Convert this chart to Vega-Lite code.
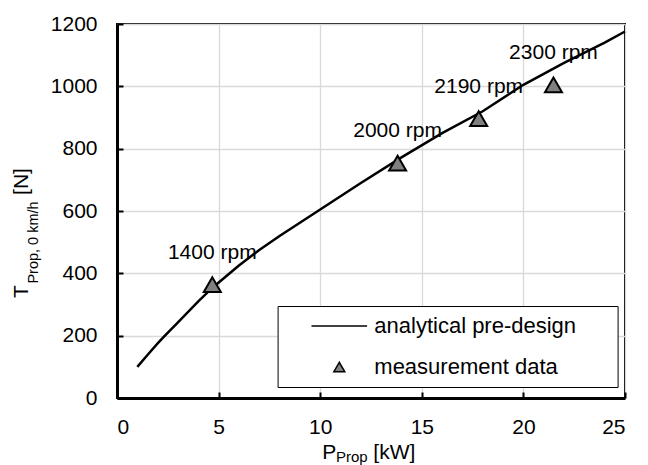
{
  "$schema": "https://vega.github.io/schema/vega-lite/v6.json",
  "width": 508,
  "height": 374,
  "autosize": {"type": "none"},
  "padding": {"left": 117, "top": 24, "right": 23, "bottom": 67},
  "background": "white",
  "datasets": {
    "curve": [
      {"P": 1, "T": 100},
      {"P": 1.5, "T": 138},
      {"P": 2, "T": 175},
      {"P": 2.3, "T": 196},
      {"P": 3, "T": 243},
      {"P": 4, "T": 310},
      {"P": 4.7, "T": 354},
      {"P": 6, "T": 425},
      {"P": 7, "T": 475},
      {"P": 8, "T": 520},
      {"P": 10, "T": 605},
      {"P": 12, "T": 690},
      {"P": 14, "T": 772},
      {"P": 16, "T": 850},
      {"P": 18, "T": 920},
      {"P": 20, "T": 1005},
      {"P": 22, "T": 1075},
      {"P": 24, "T": 1140},
      {"P": 25, "T": 1176}
    ],
    "meas": [
      {"P": 4.69, "T": 364, "rpm": "1400 rpm", "series": "measurement data"},
      {"P": 13.81, "T": 754, "rpm": "2000 rpm", "series": "measurement data"},
      {"P": 17.8, "T": 896, "rpm": "2190 rpm", "series": "measurement data"},
      {"P": 21.48, "T": 1005, "rpm": "2300 rpm", "series": "measurement data"}
    ]
  },
  "layer": [
    {
      "data": {"name": "curve"},
      "mark": {"type": "line", "color": "black", "strokeWidth": 2.5},
      "encoding": {
        "x": {
          "field": "P", "type": "quantitative",
          "scale": {"domain": [0, 25], "nice": false, "zero": false},
          "axis": {
            "orient": "bottom",
            "values": [0, 5, 10, 15, 20, 25], "format": "d",
            "grid": true, "gridColor": "#d9d9d9", "gridWidth": 1.3,
            "domain": true, "domainColor": "black", "domainWidth": 3,
            "ticks": true, "tickSize": -6, "tickColor": "black", "tickWidth": 2,
            "labelPadding": 24, "labelFontSize": 21, "labelColor": "black", "labelFont": "Liberation Sans",
            "title": "P", "titleFontSize": 21, "titleFont": "Liberation Sans", "titleFontWeight": "normal", "titleColor": "black",
            "titleX": 211.8, "titleY": 60.7, "titleAlign": "center", "titleBaseline": "alphabetic"
          }
        },
        "y": {
          "field": "T", "type": "quantitative",
          "scale": {"domain": [0, 1200], "nice": false, "zero": false},
          "axis": {
            "orient": "left",
            "values": [0, 200, 400, 600, 800, 1000, 1200], "format": "d",
            "grid": true, "gridColor": "#d9d9d9", "gridWidth": 1.3,
            "domain": true, "domainColor": "black", "domainWidth": 3,
            "ticks": true, "tickSize": -6, "tickColor": "black", "tickWidth": 2,
            "labelPadding": 26, "labelFontSize": 21, "labelColor": "black", "labelFont": "Liberation Sans",
            "title": "T", "titleFontSize": 21, "titleFont": "Liberation Sans", "titleFontWeight": "normal", "titleColor": "black",
            "titleAngle": 270, "titleX": -90, "titleY": 267, "titleAlign": "center", "titleBaseline": "alphabetic"
          }
        }
      }
    },
    {
      "data": {"name": "meas"},
      "mark": {"type": "point", "shape": "triangle-up", "filled": true, "fill": "#808080", "stroke": "black", "strokeWidth": 2, "size": 290, "opacity": 1},
      "encoding": {
        "x": {
          "field": "P", "type": "quantitative",
          "scale": {"domain": [0, 25], "nice": false, "zero": false},
          "axis": {
            "orient": "bottom", "grid": false, "domain": false, "ticks": false, "labels": false,
            "title": "Prop", "titleFontSize": 15, "titleFont": "Liberation Sans", "titleFontWeight": "normal", "titleColor": "black",
            "titleX": 234.3, "titleY": 63, "titleAlign": "center", "titleBaseline": "alphabetic"
          }
        },
        "y": {
          "field": "T", "type": "quantitative",
          "scale": {"domain": [0, 1200], "nice": false, "zero": false},
          "axis": {
            "orient": "left", "grid": false, "domain": false, "ticks": false, "labels": false,
            "title": "Prop, 0 km/h", "titleFontSize": 14.5, "titleFont": "Liberation Sans", "titleFontWeight": "normal", "titleColor": "black",
            "titleAngle": 270, "titleX": -79.2, "titleY": 218, "titleAlign": "center", "titleBaseline": "alphabetic"
          }
        }
      }
    },
    {
      "data": {"name": "meas"},
      "mark": {"type": "text", "font": "Liberation Sans", "fontSize": 21, "color": "black", "align": "center", "baseline": "alphabetic", "dy": -26},
      "encoding": {
        "x": {
          "field": "P", "type": "quantitative",
          "scale": {"domain": [0, 25], "nice": false, "zero": false},
          "axis": {
            "orient": "bottom", "grid": false, "domain": false, "ticks": false, "labels": false,
            "title": "[kW]", "titleFontSize": 21, "titleFont": "Liberation Sans", "titleFontWeight": "normal", "titleColor": "black",
            "titleX": 276.8, "titleY": 60.7, "titleAlign": "center", "titleBaseline": "alphabetic"
          }
        },
        "y": {
          "field": "T", "type": "quantitative",
          "scale": {"domain": [0, 1200], "nice": false, "zero": false},
          "axis": {
            "orient": "left", "grid": false, "domain": false, "ticks": false, "labels": false,
            "title": "[N]", "titleFontSize": 21, "titleFont": "Liberation Sans", "titleFontWeight": "normal", "titleColor": "black",
            "titleAngle": 270, "titleX": -90, "titleY": 157, "titleAlign": "center", "titleBaseline": "alphabetic"
          }
        },
        "text": {"field": "rpm", "type": "nominal"}
      }
    },
    {
      "data": {"name": "meas"},
      "mark": {"type": "point", "filled": true, "fill": "#808080", "stroke": "black", "strokeWidth": 2.3, "opacity": 0},
      "encoding": {
        "x": {"field": "P", "type": "quantitative", "scale": {"domain": [0, 25], "nice": false, "zero": false}, "axis": null},
        "y": {"field": "T", "type": "quantitative", "scale": {"domain": [0, 1200], "nice": false, "zero": false}, "axis": null},
        "size": {
          "field": "series", "type": "nominal",
          "scale": {"domain": ["analytical pre-design", "measurement data"], "range": [3091, 120]}
        },
        "shape": {
          "field": "series", "type": "nominal",
          "scale": {"domain": ["analytical pre-design", "measurement data"], "range": ["stroke", "triangle-up"]},
          "legend": {
            "orient": "none", "legendX": 160.6, "legendY": 282,
            "title": null,
            "padding": 9,
            "fillColor": "white", "strokeColor": "black",
            "clipHeight": 22,
            "symbolOffset": 23.7, "labelOffset": 6,
            "rowPadding": 19,
            "symbolOpacity": 1,
            "labelFont": "Liberation Sans", "labelFontSize": 22, "labelColor": "black", "labelLimit": 600,
            "labelExpr": "datum.label + '\u2800\u2800'"
          }
        }
      }
    }
  ],
  "resolve": {"scale": {"x": "independent", "y": "independent"}},
  "config": {
    "view": {"stroke": "black", "strokeWidth": 2},
    "font": "Liberation Sans"
  }
}
